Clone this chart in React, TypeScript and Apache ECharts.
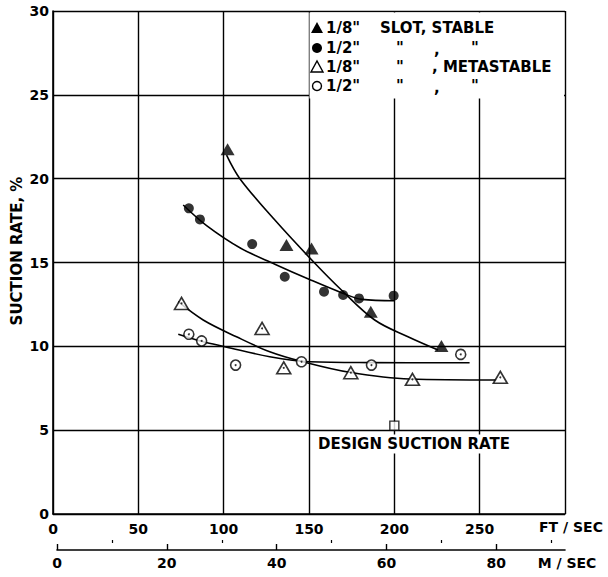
import React, { useEffect, useRef } from "react";
import * as echarts from "echarts";

// ---- measured points (velocity ft/sec, suction rate %) ----
const stable18X = [102.3, 136.8, 151.5, 186.2, 227.6];
const stable18Y = [21.75, 16.04, 15.84, 12.06, 10.02];
const stable12X = [79.6, 86.1, 116.7, 135.8, 158.8, 170, 179.3, 199.6];
const stable12Y = [18.23, 17.57, 16.1, 14.15, 13.26, 13.06, 12.86, 13.02];
const meta18X = [75.3, 122.5, 135.2, 174.5, 210.6, 262.1];
const meta18Y = [12.56, 11.07, 8.72, 8.43, 8.03, 8.15];
const meta12X = [79.6, 87.1, 107, 145.6, 186.6, 238.9];
const meta12Y = [10.72, 10.32, 8.88, 9.08, 8.88, 9.52];
const designX = [200];
const designY = [5.27];

// ---- faired curves ----
const curveStable18X = [101.7, 109.5, 130, 153, 169, 188.5, 208, 225.6];
const curveStable18Y = [21.4, 20.0, 17.53, 15.0, 13.36, 11.57, 10.57, 9.78];
const curveStable12X = [76.3, 90, 110, 130, 150, 169, 181, 200];
const curveStable12Y = [18.43, 17.2, 15.85, 14.9, 14.0, 13.2, 12.8, 12.72];
const curveMeta18X = [73.4, 88, 107.5, 127, 146.5, 173.9, 209, 259.8];
const curveMeta18Y = [12.66, 11.57, 10.57, 9.68, 9.08, 8.45, 8.05, 7.99];
const curveMeta12X = [73.4, 88, 100.7, 127, 150.5, 185.6, 244.1];
const curveMeta12Y = [10.72, 10.27, 9.98, 9.38, 9.08, 9.03, 9.02];

// ---- axis settings ----
const ftMin = 0;
const ftMax = 300;
const ftStep = 50;
const rateMin = 0;
const rateMax = 30;
const rateStep = 5;
const msMax = 92.5;
const msMajor = [0, 20, 40, 60, 80];
const msMinor = [10, 30, 50, 70, 90];

const legendRows = [
  { size: '1/8"', rest: "SLOT, STABLE" },
  { size: '1/2"', rest: "" },
  { size: '1/8"', rest: ", METASTABLE" },
  { size: '1/2"', rest: "" },
];

const zip = (xs: number[], ys: number[]) => xs.map((x, i) => [x, ys[i]]);

export default function App() {
  const ref = useRef<HTMLDivElement>(null);

  useEffect(() => {
    if (!ref.current) return;
    const chart = echarts.init(ref.current, null, { renderer: "svg" });
    const font = "DejaVu Sans";
    const lbl = { fontFamily: font, fontWeight: "bold" as const, fontSize: 14, color: "#000" };
    const ink = "#000";

    const curve = (xs: number[], ys: number[]) => ({
      type: "line",
      xAxisIndex: 0,
      yAxisIndex: 0,
      data: zip(xs, ys),
      smooth: 0.35,
      showSymbol: false,
      symbol: "none",
      silent: true,
      lineStyle: { color: ink, width: 1.6 },
      z: 2,
    });

    const openStyle = { color: "#fff", borderColor: ink, borderWidth: 1.6 };
    const txt = (text: string, x: number, y: number, size = 15, extra: any = {}) => ({
      type: "text",
      x,
      y,
      z: 60,
      style: {
        text,
        fontFamily: font,
        fontWeight: "bold",
        fontSize: size,
        fill: ink,
        verticalAlign: "middle",
        ...extra,
      },
    });

    const rowY = [28, 48, 67, 86];
    const legendGraphics: any[] = [
      {
        type: "rect",
        z: 50,
        shape: { x: 309.5, y: 12.5, width: 254.5, height: 86 },
        style: { fill: "#fff" },
      },
      {
        type: "polygon",
        z: 60,
        shape: { points: [[311, rowY[0] + 5], [323, rowY[0] + 5], [317, rowY[0] - 6]] },
        style: { fill: ink },
      },
      { type: "circle", z: 60, shape: { cx: 317, cy: rowY[1], r: 5 }, style: { fill: ink } },
      {
        type: "polygon",
        z: 60,
        shape: { points: [[311, rowY[2] + 5], [323, rowY[2] + 5], [317, rowY[2] - 6]] },
        style: { fill: "#fff", stroke: ink, lineWidth: 1.4 },
      },
      {
        type: "circle",
        z: 60,
        shape: { cx: 317, cy: rowY[3], r: 4.5 },
        style: { fill: "#fff", stroke: ink, lineWidth: 1.4 },
      },
    ];
    legendRows.forEach((r, i) => {
      legendGraphics.push(txt(r.size, 326, rowY[i]));
    });
    legendGraphics.push(txt(legendRows[0].rest, 380, rowY[0]));
    legendGraphics.push(txt('"', 396, rowY[1]));
    legendGraphics.push(txt(",", 434, rowY[1] + 2));
    legendGraphics.push(txt('"', 471, rowY[1]));
    legendGraphics.push(txt('"', 396, rowY[2]));
    legendGraphics.push(txt(legendRows[2].rest, 432, rowY[2]));
    legendGraphics.push(txt('"', 396, rowY[3]));
    legendGraphics.push(txt(",", 434, rowY[3] + 2));
    legendGraphics.push(txt('"', 471, rowY[3]));

    chart.setOption({
      animation: false,
      backgroundColor: "#fff",
      grid: [
        { left: 53, top: 11, width: 512, height: 503 },
        { left: 57, top: 540, width: 508, height: 10 },
      ],
      xAxis: [
        {
          type: "value",
          gridIndex: 0,
          min: ftMin,
          max: ftMax,
          interval: ftStep,
          axisLine: { show: true, lineStyle: { color: ink, width: 1.6 } },
          axisTick: { show: false },
          splitLine: { show: true, lineStyle: { color: ink, width: 1.4 } },
          axisLabel: {
            ...lbl,
            margin: 8,
            formatter: (v: number) => (v === ftMax ? "" : String(v)),
          },
        },
        {
          type: "value",
          gridIndex: 1,
          min: 0,
          max: msMax,
          interval: 20,
          axisLine: { show: true, lineStyle: { color: ink, width: 1.6 } },
          axisTick: {
            show: true,
            inside: true,
            length: 6,
            customValues: msMajor,
            lineStyle: { color: ink, width: 1.4 },
          },
          splitLine: { show: false },
          axisLabel: { ...lbl, margin: 6, customValues: msMajor },
        },
        {
          type: "value",
          gridIndex: 1,
          min: 0,
          max: msMax,
          interval: 10,
          axisLine: { show: false },
          axisTick: {
            show: true,
            inside: true,
            length: 3,
            customValues: msMinor,
            lineStyle: { color: ink, width: 1.2 },
          },
          splitLine: { show: false },
          axisLabel: { show: false },
        },
      ],
      yAxis: [
        {
          type: "value",
          gridIndex: 0,
          min: rateMin,
          max: rateMax,
          interval: rateStep,
          axisLine: { show: true, lineStyle: { color: ink, width: 1.6 } },
          axisTick: { show: false },
          splitLine: { show: true, lineStyle: { color: ink, width: 1.4 } },
          axisLabel: { ...lbl, margin: 4 },
        },
        { type: "value", gridIndex: 1, min: 0, max: 1, show: false },
      ],
      series: [
        curve(curveStable18X, curveStable18Y),
        curve(curveStable12X, curveStable12Y),
        curve(curveMeta18X, curveMeta18Y),
        curve(curveMeta12X, curveMeta12Y),
        {
          type: "scatter",
          data: zip(stable18X, stable18Y),
          symbol: "triangle",
          symbolSize: [14, 12],
          itemStyle: { color: ink },
          z: 4,
        },
        {
          type: "scatter",
          data: zip(stable12X, stable12Y),
          symbol: "circle",
          symbolSize: 10,
          itemStyle: { color: ink },
          z: 4,
        },
        {
          type: "scatter",
          data: zip(meta18X, meta18Y),
          symbol: "triangle",
          symbolSize: [14, 12],
          itemStyle: openStyle,
          z: 4,
        },
        {
          type: "scatter",
          data: zip(meta12X, meta12Y),
          symbol: "circle",
          symbolSize: 10,
          itemStyle: openStyle,
          z: 4,
        },
        {
          type: "scatter",
          data: zip(meta18X, meta18Y).concat(zip(meta12X, meta12Y)),
          symbol: "circle",
          symbolSize: 2,
          itemStyle: { color: ink },
          z: 5,
        },
        {
          type: "scatter",
          data: zip(designX, designY),
          symbol: "rect",
          symbolSize: 9,
          itemStyle: { color: "#fff", borderColor: ink, borderWidth: 1.4 },
          z: 4,
        },
      ],
      graphic: [
        ...legendGraphics,
        txt("DESIGN SUCTION RATE", 316, 444, 15, {
          backgroundColor: "#fff",
          padding: [2, 2],
        }),
        txt("FT / SEC", 571, 527, 14, { align: "center" }),
        txt("M / SEC", 567, 563, 14, { align: "center" }),
        {
          type: "text",
          x: 17,
          y: 251,
          rotation: Math.PI / 2,
          z: 60,
          style: {
            text: "SUCTION RATE, %",
            fontFamily: font,
            fontWeight: "bold",
            fontSize: 15,
            fill: ink,
            align: "center",
            verticalAlign: "middle",
          },
        },
      ],
    });

    return () => chart.dispose();
  }, []);

  return (
    <div
      ref={ref}
      style={{ position: "absolute", left: 0, top: 0, width: 608, height: 577, background: "#fff" }}
    />
  );
}
